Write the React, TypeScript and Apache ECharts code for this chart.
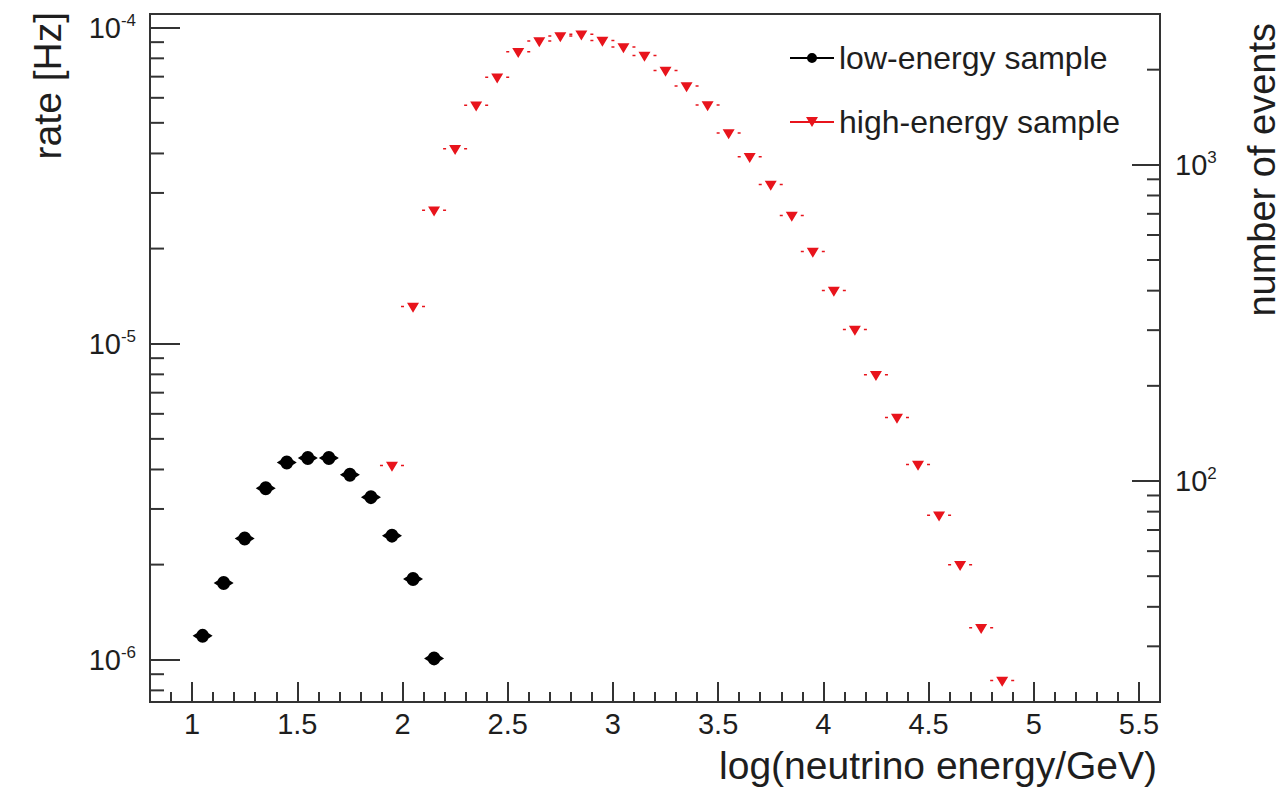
import React, { useEffect, useRef } from "react";
import * as echarts from "echarts";

// ---- data ----
const xLow = [1.05, 1.15, 1.25, 1.35, 1.45, 1.55, 1.65, 1.75, 1.85, 1.95, 2.05, 2.15];
const rateLow = [1.19e-6, 1.75e-6, 2.42e-6, 3.49e-6, 4.21e-6, 4.35e-6, 4.35e-6, 3.85e-6, 3.27e-6, 2.47e-6, 1.8e-6, 1.01e-6];

const xHigh = [
  1.95, 2.05, 2.15, 2.25, 2.35, 2.45, 2.55, 2.65, 2.75, 2.85,
  2.95, 3.05, 3.15, 3.25, 3.35, 3.45, 3.55, 3.65, 3.75, 3.85,
  3.95, 4.05, 4.15, 4.25, 4.35, 4.45, 4.55, 4.65, 4.75, 4.85,
];
const rateHigh = [
  4.08e-6, 1.3e-5, 2.62e-5, 4.1e-5, 5.63e-5, 6.91e-5, 8.31e-5, 8.99e-5, 9.33e-5, 9.45e-5,
  9.02e-5, 8.61e-5, 8.09e-5, 7.25e-5, 6.48e-5, 5.64e-5, 4.6e-5, 3.87e-5, 3.16e-5, 2.52e-5,
  1.94e-5, 1.46e-5, 1.1e-5, 7.91e-6, 5.79e-6, 4.11e-6, 2.84e-6, 1.98e-6, 1.25e-6, 8.52e-7,
];

const seriesNames = ["low-energy sample", "high-energy sample"];
const xTitle = "log(neutrino energy/GeV)";
const yLeftTitle = "rate [Hz]";
const yRightTitle = "number of events";

// axis ranges
const X_MIN = 0.8;
const X_MAX = 5.6;
const RATE_MIN = 7.35e-7;
const RATE_MAX = 1.105e-4;
const EVENTS_MIN = 20;
const EVENTS_MAX = 3000;

// minor log ticks (2..9 x 10^n) strictly inside the ranges
function logMinorTicks(min: number, max: number, nLo: number, nHi: number) {
  const out: number[] = [];
  for (let n = nLo; n <= nHi; n++) {
    for (let k = 2; k <= 9; k++) {
      const v = k * Math.pow(10, n);
      if (v > min * 1.001 && v < max * 0.999) out.push(v);
    }
  }
  return out;
}
const leftMinorTicks = logMinorTicks(RATE_MIN, RATE_MAX, -7, -4);
const rightMinorTicks = logMinorTicks(EVENTS_MIN, EVENTS_MAX, 1, 3);

const FONT = "'Liberation Sans', Arial, Helvetica, sans-serif";
const AXIS_COLOR = "#333";
const TEXT_COLOR = "#1e1e1e";
const RED = "#e8141c";

const powLabel = (v: number) => {
  const e = Math.round(Math.log10(v));
  return `{a|10}{b|${e}}`;
};
const powRich = {
  a: { fontSize: 29, fontFamily: FONT, color: TEXT_COLOR, lineHeight: 32 },
  b: { fontSize: 17, fontFamily: FONT, color: TEXT_COLOR, verticalAlign: "top", lineHeight: 32 },
};

const lowSymbol =
  "path://M3.5,7 A6.5,6.5 0 1,1 16.5,7 A6.5,6.5 0 1,1 3.5,7 Z M0,7 L6,3.5 L14,3.5 L20,7 L14,10.5 L6,10.5 Z";
const highSymbol =
  "path://M6,1 L18,1 L12,11 Z M0,4 L3,4 L3,5.5 L0,5.5 Z M21,4 L24,4 L24,5.5 L21,5.5 Z";
const lowLegendIcon =
  "path://M17,6 A5,5 0 1,1 27,6 A5,5 0 1,1 17,6 Z M0,5 L44,5 L44,7 L0,7 Z";
const highLegendIcon = "path://M16,1 L28,1 L22,11 Z M0,5 L44,5 L44,7 L0,7 Z";

export default function App() {
  const ref = useRef<HTMLDivElement>(null);

  useEffect(() => {
    if (!ref.current) return;
    const chart = echarts.init(ref.current, undefined, { renderer: "svg" });

    const tickLine = (dir: number, len: number) => (params: any, api: any) => {
      const p = api.coord([api.value(0), api.value(1)]);
      return {
        type: "line",
        shape: { x1: p[0], y1: p[1], x2: p[0] + dir * len, y2: p[1] },
        style: { stroke: AXIS_COLOR, lineWidth: 2 },
      };
    };

    const option: any = {
      animation: false,
      backgroundColor: "#ffffff",
      textStyle: { fontFamily: FONT },
      grid: {
        left: 150,
        top: 14,
        width: 1010,
        height: 688,
        show: true,
        borderColor: AXIS_COLOR,
        borderWidth: 2,
        backgroundColor: "transparent",
      },
      legend: {
        orient: "vertical",
        left: 785,
        top: 36,
        itemWidth: 44,
        itemHeight: 12,
        itemGap: 30,
        textStyle: { fontSize: 32, lineHeight: 34, color: TEXT_COLOR, fontFamily: FONT },
        data: [
          { name: seriesNames[0], icon: lowLegendIcon, itemStyle: { color: "#000", opacity: 1 } },
          { name: seriesNames[1], icon: highLegendIcon, itemStyle: { color: RED, opacity: 1 } },
        ],
      },
      xAxis: [
        {
          type: "value",
          min: X_MIN,
          max: X_MAX,
          splitNumber: 10,
          axisLine: { show: true, lineStyle: { color: AXIS_COLOR, width: 2 } },
          axisTick: { show: true, inside: true, length: 20, lineStyle: { color: AXIS_COLOR, width: 2 } },
          splitLine: { show: false },
          axisLabel: {
            fontSize: 29,
            color: TEXT_COLOR,
            fontFamily: FONT,
            margin: 7,
            showMinLabel: false,
            showMaxLabel: false,
          },
        },
        {
          type: "value",
          min: X_MIN,
          max: X_MAX,
          interval: 0.1,
          position: "bottom",
          axisLine: { show: false },
          axisTick: { show: true, inside: true, length: 10, lineStyle: { color: AXIS_COLOR, width: 2 } },
          splitLine: { show: false },
          axisLabel: { show: false },
        },
      ],
      yAxis: [
        {
          type: "log",
          logBase: 10,
          min: RATE_MIN,
          max: RATE_MAX,
          position: "left",
          axisLine: { show: true, lineStyle: { color: AXIS_COLOR, width: 2 } },
          axisTick: { show: true, inside: true, length: 30, lineStyle: { color: AXIS_COLOR, width: 2 } },
          splitLine: { show: false },
          minorTick: { show: false },
          axisLabel: {
            margin: 14,
            showMinLabel: false,
            showMaxLabel: false,
            formatter: powLabel,
            rich: powRich,
          },
        },
        {
          type: "log",
          logBase: 10,
          min: EVENTS_MIN,
          max: EVENTS_MAX,
          position: "right",
          axisLine: { show: true, lineStyle: { color: AXIS_COLOR, width: 2 } },
          axisTick: { show: true, inside: true, length: 28, lineStyle: { color: AXIS_COLOR, width: 2 } },
          splitLine: { show: false },
          axisLabel: {
            margin: 15,
            showMinLabel: false,
            showMaxLabel: false,
            formatter: powLabel,
            rich: powRich,
          },
        },
      ],
      series: [
        {
          name: seriesNames[0],
          type: "scatter",
          xAxisIndex: 0,
          yAxisIndex: 0,
          symbol: lowSymbol,
          symbolSize: [20, 14],
          itemStyle: { color: "#000", opacity: 1 },
          data: xLow.map((x, i) => [x, rateLow[i]]),
          z: 4,
        },
        {
          name: seriesNames[1],
          type: "scatter",
          xAxisIndex: 0,
          yAxisIndex: 0,
          symbol: highSymbol,
          symbolSize: [24, 10],
          itemStyle: { color: RED, opacity: 1 },
          data: xHigh.map((x, i) => [x, rateHigh[i]]),
          z: 4,
        },
        {
          name: "leftMinorTicks",
          type: "custom",
          xAxisIndex: 0,
          yAxisIndex: 0,
          silent: true,
          clip: false,
          renderItem: tickLine(1, 14),
          data: leftMinorTicks.map((v) => [X_MIN, v]),
          z: 3,
        },
        {
          name: "rightMinorTicks",
          type: "custom",
          xAxisIndex: 0,
          yAxisIndex: 1,
          silent: true,
          clip: false,
          renderItem: tickLine(-1, 13),
          data: rightMinorTicks.map((v) => [X_MAX, v]),
          z: 3,
        },
      ],
      graphic: [
        {
          type: "text",
          x: 1157,
          y: 765,
          style: {
            text: xTitle,
            fontSize: 39,
            fontFamily: FONT,
            fill: TEXT_COLOR,
            align: "right",
            verticalAlign: "middle",
          },
        },
        {
          type: "text",
          x: 47,
          y: 12,
          rotation: Math.PI / 2,
          style: {
            text: yLeftTitle,
            fontSize: 39,
            fontFamily: FONT,
            fill: TEXT_COLOR,
            align: "right",
            verticalAlign: "middle",
          },
        },
        {
          type: "text",
          x: 1262,
          y: 23,
          rotation: Math.PI / 2,
          style: {
            text: yRightTitle,
            fontSize: 38,
            fontFamily: FONT,
            fill: TEXT_COLOR,
            align: "right",
            verticalAlign: "middle",
          },
        },
      ],
    };

    chart.setOption(option);
    return () => chart.dispose();
  }, []);

  return (
    <div
      ref={ref}
      style={{ position: "fixed", left: 0, top: 0, width: 1283, height: 787, background: "#fff" }}
    />
  );
}
